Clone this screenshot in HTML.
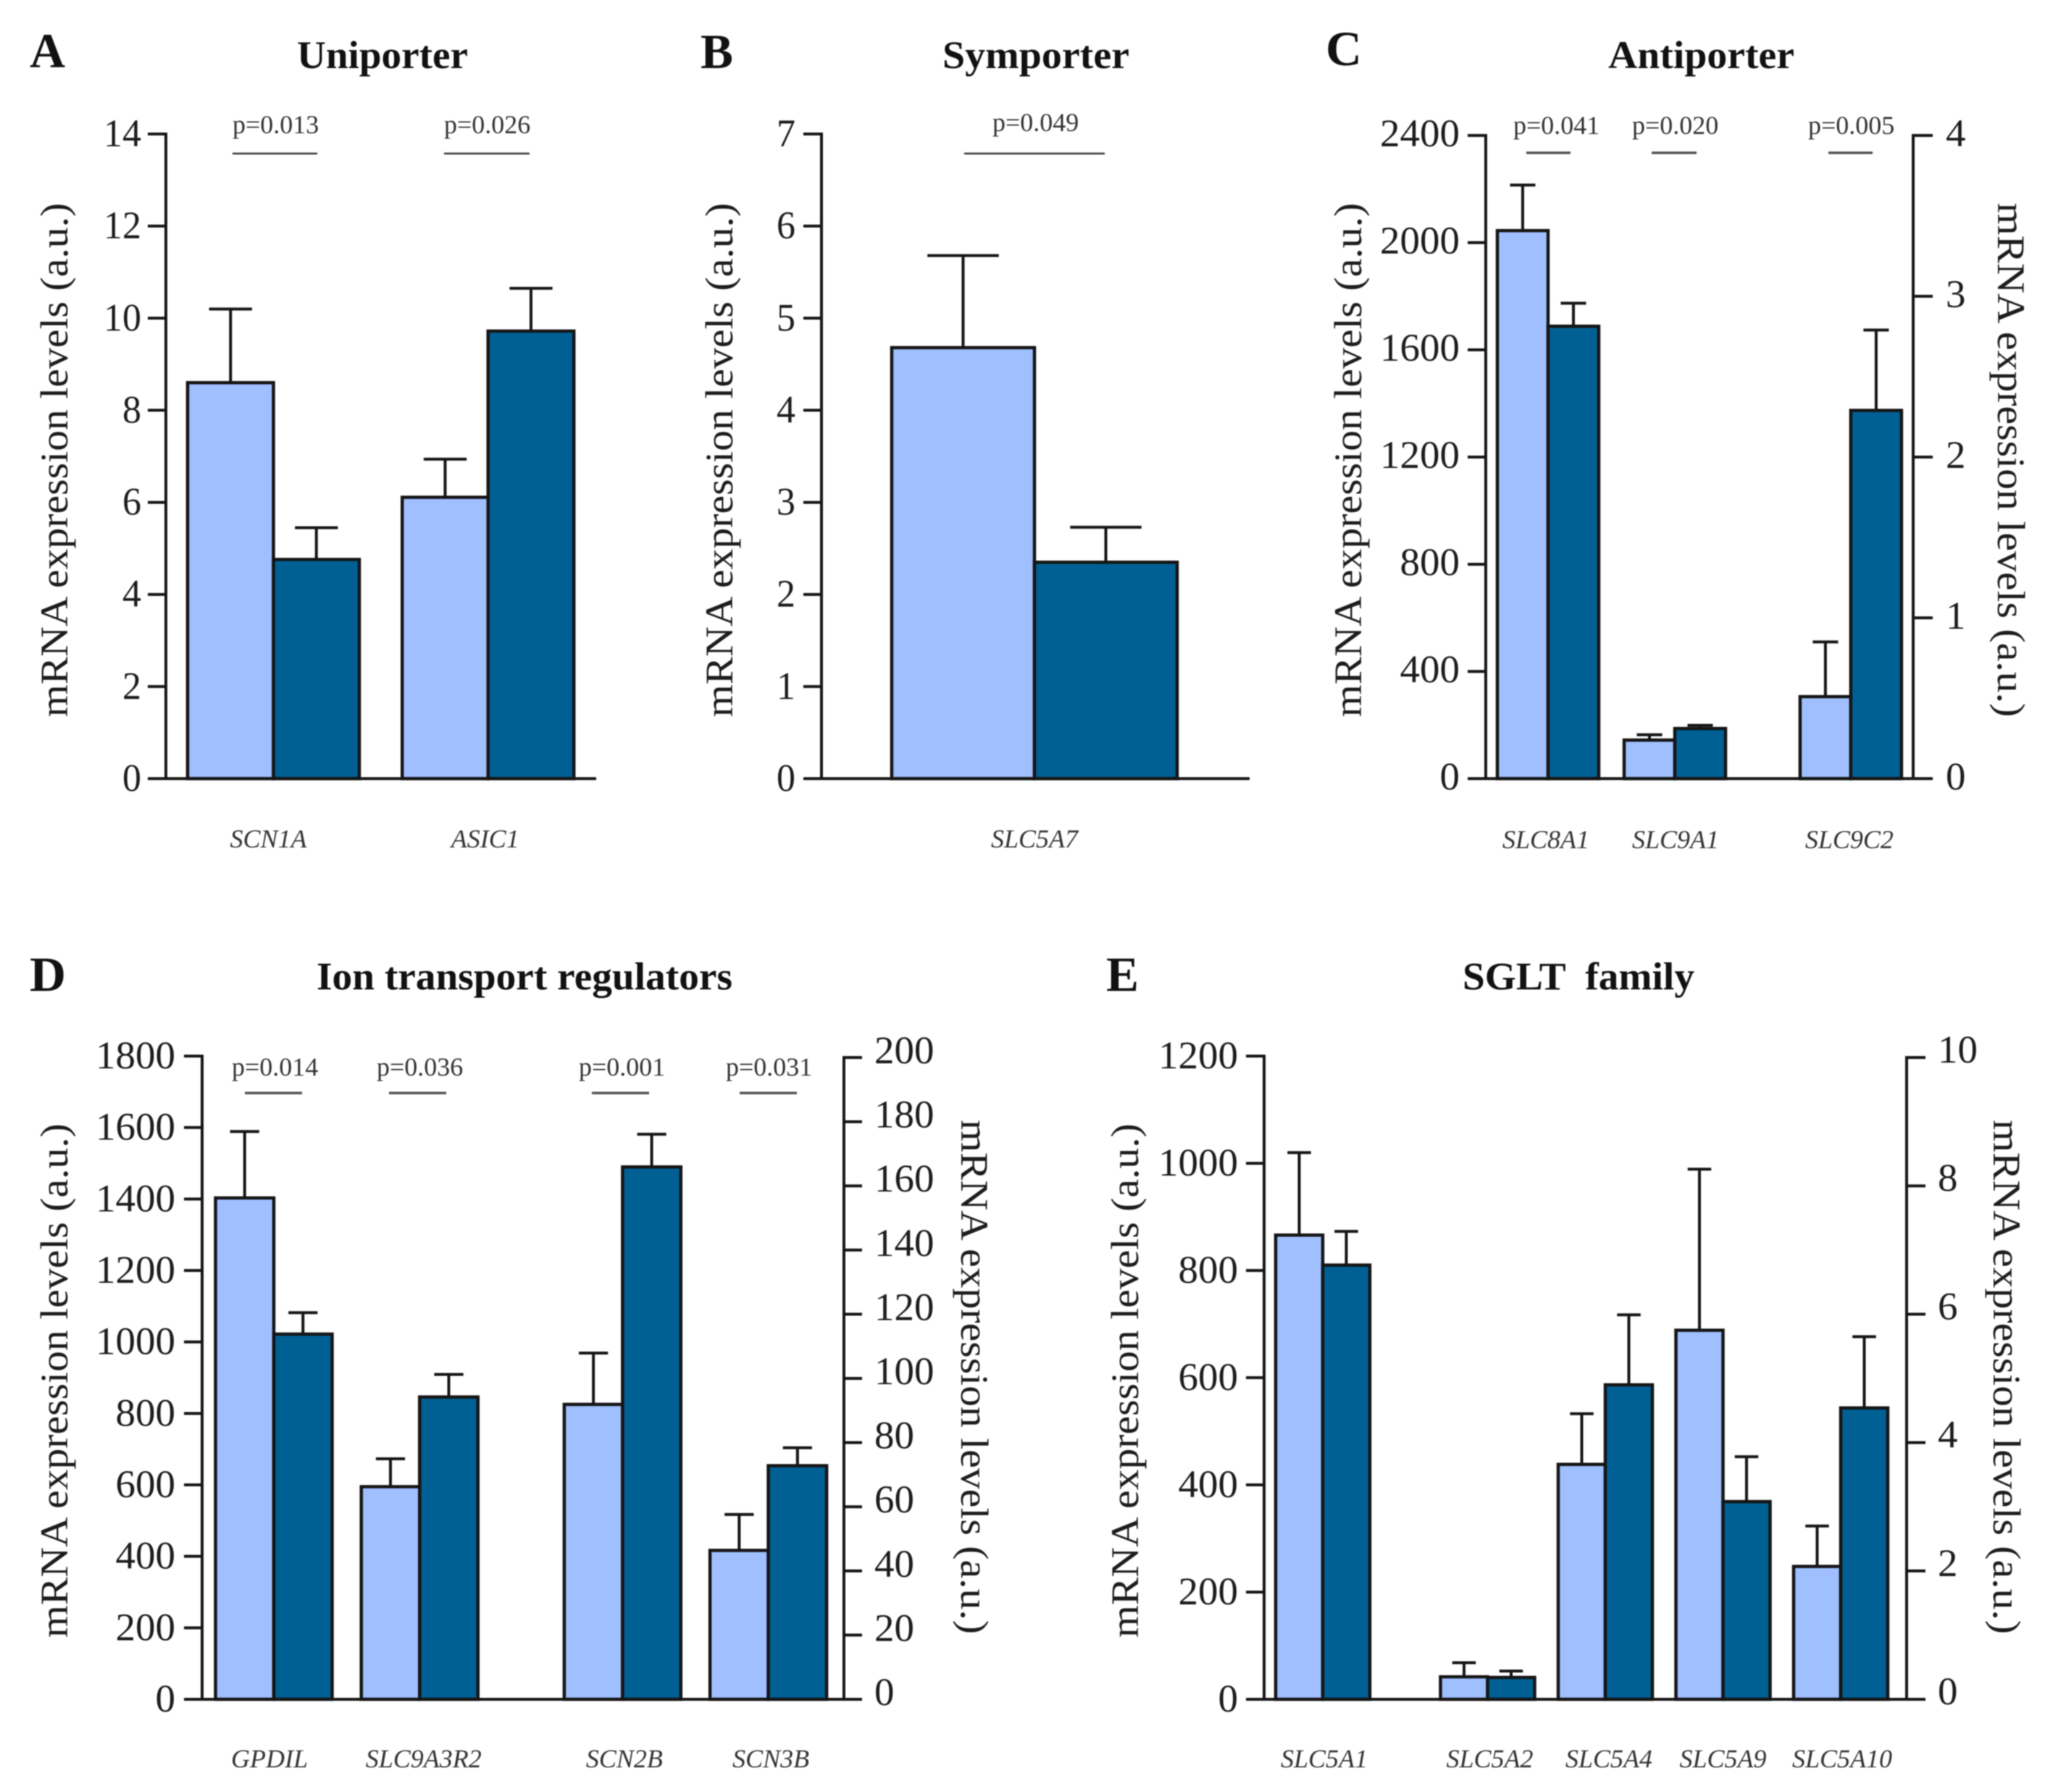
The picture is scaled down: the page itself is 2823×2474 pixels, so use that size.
<!DOCTYPE html>
<html lang="en">
<head>
<meta charset="utf-8">
<title>mRNA expression levels</title>
<style>
html,body{margin:0;padding:0;background:#fff;}
svg{display:block;filter:blur(0.9px);}
text{font-family:"Liberation Serif",serif;fill:#1c1c1c;}
.panel-letter{font-weight:bold;font-size:68px;fill:#111;}
.panel-title{font-weight:bold;font-size:54px;fill:#111;}
.y-title{font-size:54px;}
.p-text{font-size:36px;fill:#333;}
.p-line{stroke:#333;stroke-width:2.6;}
.p-line-wide{stroke:#555;stroke-width:3.4;}
.gene{font-size:36px;font-style:italic;fill:#333;}
</style>
</head>
<body>
<svg id="figure" xmlns="http://www.w3.org/2000/svg" width="2823" height="2474" viewBox="0 0 2823 2474">
  <rect x="0" y="0" width="2823" height="2474" fill="#ffffff"/>

  <text class="panel-letter" x="41" y="93" textLength="49" lengthAdjust="spacingAndGlyphs">A</text>
  <text class="panel-letter" x="967" y="94" textLength="45" lengthAdjust="spacingAndGlyphs">B</text>
  <text class="panel-letter" x="1830" y="90" textLength="50" lengthAdjust="spacingAndGlyphs">C</text>
  <text class="panel-letter" x="41" y="1368" textLength="50" lengthAdjust="spacingAndGlyphs">D</text>
  <text class="panel-letter" x="1527" y="1368" textLength="45" lengthAdjust="spacingAndGlyphs">E</text>

  <text class="panel-title" x="410" y="94" textLength="236" lengthAdjust="spacingAndGlyphs">Uniporter</text>
  <text class="panel-title" x="1301" y="94" textLength="258" lengthAdjust="spacingAndGlyphs">Symporter</text>
  <text class="panel-title" x="2220" y="94" textLength="257" lengthAdjust="spacingAndGlyphs">Antiporter</text>
  <text class="panel-title" x="437" y="1366" textLength="574" lengthAdjust="spacingAndGlyphs">Ion transport regulators</text>
  <text class="panel-title" x="2019" y="1366" textLength="320" lengthAdjust="spacingAndGlyphs" xml:space="preserve">SGLT  family</text>

  <text class="y-title" text-anchor="middle" transform="translate(93,635) rotate(-90)" textLength="710" lengthAdjust="spacingAndGlyphs">mRNA expression levels (a.u.)</text>
  <text class="y-title" text-anchor="middle" transform="translate(1011,635) rotate(-90)" textLength="710" lengthAdjust="spacingAndGlyphs">mRNA expression levels (a.u.)</text>
  <text class="y-title" text-anchor="middle" transform="translate(1879,635) rotate(-90)" textLength="710" lengthAdjust="spacingAndGlyphs">mRNA expression levels (a.u.)</text>
  <text class="y-title" text-anchor="middle" transform="translate(2758,635) rotate(90)" textLength="710" lengthAdjust="spacingAndGlyphs">mRNA expression levels (a.u.)</text>
  <text class="y-title" text-anchor="middle" transform="translate(93,1906) rotate(-90)" textLength="710" lengthAdjust="spacingAndGlyphs">mRNA expression levels (a.u.)</text>
  <text class="y-title" text-anchor="middle" transform="translate(1327,1901) rotate(90)" textLength="710" lengthAdjust="spacingAndGlyphs">mRNA expression levels (a.u.)</text>
  <text class="y-title" text-anchor="middle" transform="translate(1571,1906) rotate(-90)" textLength="710" lengthAdjust="spacingAndGlyphs">mRNA expression levels (a.u.)</text>
  <text class="y-title" text-anchor="middle" transform="translate(2752,1901) rotate(90)" textLength="710" lengthAdjust="spacingAndGlyphs">mRNA expression levels (a.u.)</text>

  <text class="p-text" x="321" y="184">p=0.013</text>
  <line class="p-line" x1="321" x2="438" y1="212" y2="212"/>
  <text class="p-text" x="613" y="184">p=0.026</text>
  <line class="p-line" x1="613" x2="731" y1="212" y2="212"/>
  <text class="p-text" x="1370" y="181">p=0.049</text>
  <line class="p-line" x1="1331" x2="1525" y1="212" y2="212"/>
  <text class="p-text" x="2089" y="185">p=0.041</text>
  <line class="p-line-wide" x1="2107" x2="2168" y1="211" y2="211"/>
  <text class="p-text" x="2253" y="185">p=0.020</text>
  <line class="p-line-wide" x1="2280" x2="2342" y1="211" y2="211"/>
  <text class="p-text" x="2496" y="185">p=0.005</text>
  <line class="p-line-wide" x1="2524" x2="2585" y1="211" y2="211"/>
  <text class="p-text" x="320" y="1485">p=0.014</text>
  <line class="p-line-wide" x1="338" x2="417" y1="1509" y2="1509"/>
  <text class="p-text" x="520" y="1485">p=0.036</text>
  <line class="p-line-wide" x1="537" x2="616" y1="1509" y2="1509"/>
  <text class="p-text" x="799" y="1485">p=0.001</text>
  <line class="p-line-wide" x1="817" x2="896" y1="1509" y2="1509"/>
  <text class="p-text" x="1002" y="1485">p=0.031</text>
  <line class="p-line-wide" x1="1021" x2="1100" y1="1509" y2="1509"/>
</svg>

<script>
// Panel A: Uniporter
const panelAGenes = ['SCN1A', 'ASIC1'];
const panelATicksLeft = [0, 2, 4, 6, 8, 10, 12, 14];
const panelAAxis = ['L', 'L'];
const panelAControl = [8.6, 6.11];
const panelAControlErr = [1.6, 0.83];
const panelACase = [4.76, 9.72];
const panelACaseErr = [0.69, 0.93];

// Panel B: Symporter
const panelBGenes = ['SLC5A7'];
const panelBTicksLeft = [0, 1, 2, 3, 4, 5, 6, 7];
const panelBAxis = ['L'];
const panelBControl = [4.68];
const panelBControlErr = [1.0];
const panelBCase = [2.35];
const panelBCaseErr = [0.38];

// Panel C: Antiporter
const panelCGenes = ['SLC8A1', 'SLC9A1', 'SLC9C2'];
const panelCTicksLeft = [0, 400, 800, 1200, 1600, 2000, 2400];
const panelCTicksRight = [0, 1, 2, 3, 4];
const panelCAxis = ['L', 'L', 'R'];
const panelCControl = [2045, 144, 0.51];
const panelCControlErr = [170, 20, 0.34];
const panelCCase = [1688, 187, 2.29];
const panelCCaseErr = [86, 12, 0.5];

// Panel D: Ion transport regulators
const panelDGenes = ['GPDIL', 'SLC9A3R2', 'SCN2B', 'SCN3B'];
const panelDTicksLeft = [0, 200, 400, 600, 800, 1000, 1200, 1400, 1600, 1800];
const panelDTicksRight = [0, 20, 40, 60, 80, 100, 120, 140, 160, 180, 200];
const panelDAxis = ['L', 'L', 'R', 'R'];
const panelDControl = [1403, 595, 91.9, 46.4];
const panelDControlErr = [186, 78, 16, 11.2];
const panelDCase = [1022, 846, 165.9, 72.8];
const panelDCaseErr = [60, 63, 10.2, 5.6];

// Panel E: SGLT family
const panelEGenes = ['SLC5A1', 'SLC5A2', 'SLC5A4', 'SLC5A9', 'SLC5A10'];
const panelETicksLeft = [0, 200, 400, 600, 800, 1000, 1200];
const panelETicksRight = [0, 2, 4, 6, 8, 10];
const panelEAxis = ['L', 'R', 'R', 'R', 'R'];
const panelEControl = [866, 0.35, 3.66, 5.75, 2.07];
const panelEControlErr = [154, 0.22, 0.79, 2.51, 0.63];
const panelECase = [810, 0.34, 4.9, 3.08, 4.54];
const panelECaseErr = [63, 0.10, 1.09, 0.7, 1.11];

const LIGHT = '#9fbfff';
const DARK = '#006094';
const STROKE = '#151515';
const NS = 'http://www.w3.org/2000/svg';
const svg = document.getElementById('figure');

function mk(parent, tag, attrs, txt) {
  const n = document.createElementNS(NS, tag);
  for (const k in attrs) n.setAttribute(k, attrs[k]);
  if (txt !== undefined) n.textContent = txt;
  parent.appendChild(n);
  return n;
}

function drawPanel(p) {
  const g = mk(svg, 'g', {});
  
  

  const maxL = p.ticksLeft[p.ticksLeft.length - 1];
  const yL = v => p.y0 - v / maxL * (p.y0 - p.topL);
  let yR = yL;
  if (p.ticksRight) {
    const maxR = p.ticksRight[p.ticksRight.length - 1];
    yR = v => p.y0 - v / maxR * (p.y0 - p.topR);
  }
  const xBand = slot => p.originX + slot * p.barW;
  const line = {stroke: STROKE, 'stroke-width': 4, fill: 'none'};

  // bars and error bars
  p.genes.forEach((gene, i) => {
    const scale = p.axis[i] === 'R' ? yR : yL;
    const left = xBand(p.slots[i]);
    const series = [
      {name: 'control', vals: p.control, errs: p.controlErr, fill: LIGHT, off: 0},
      {name: 'case', vals: p.caseVals, errs: p.caseErr, fill: DARK, off: 1}
    ];
    series.forEach(s => {
      const bx = left + s.off * p.barW;
      const cx = bx + p.barW / 2;
      const top = scale(s.vals[i]);
      const errTop = scale(s.vals[i] + s.errs[i]);
      const stem = mk(g, 'line', Object.assign({x1: cx, x2: cx, y1: top, y2: errTop}, line));
      
      
      const cap = mk(g, 'line', Object.assign({x1: cx - p.barW / 4, x2: cx + p.barW / 4, y1: errTop, y2: errTop}, line));
      
      
      const bar = mk(g, 'rect', {x: bx, y: top, width: p.barW, height: p.y0 - top, fill: s.fill, stroke: STROKE, 'stroke-width': 4.5});
      
      
    });
    const label = mk(g, 'text', {class: 'gene', x: left + p.barW + p.labelShift[i], y: p.labelY, 'text-anchor': 'middle'}, gene);
    
    
  });

  // left axis
  const axisL = mk(g, 'line', Object.assign({x1: p.axisLeft, x2: p.axisLeft, y1: p.topL - 2, y2: p.y0 + 2}, line));
  
  
  p.ticksLeft.forEach(t => {
    const y = yL(t);
    const tick = mk(g, 'line', Object.assign({x1: p.tickLeft, x2: p.axisLeft, y1: y, y2: y}, line));
    
    
    const s = String(t);
    const lab = mk(g, 'text', {x: p.labelLeft, y: y + p.labelDrop, 'text-anchor': 'end', 'font-size': 54, textLength: s.length * p.charW, lengthAdjust: 'spacingAndGlyphs'}, s);
    
    
  });

  // baseline
  const base = mk(g, 'line', Object.assign({x1: p.tickLeft, x2: p.baseEnd, y1: p.y0, y2: p.y0}, line));
  
  

  // right axis
  if (p.ticksRight) {
    const axisR = mk(g, 'line', Object.assign({x1: p.axisRight, x2: p.axisRight, y1: p.topR - 2, y2: p.y0 + 2}, line));
    
    
    p.ticksRight.forEach(t => {
      const y = yR(t);
      const tick = mk(g, 'line', Object.assign({x1: p.axisRight, x2: p.tickRight, y1: y, y2: y}, line));
      
      
      const s = String(t);
      const lab = mk(g, 'text', {x: p.labelRight, y: y + p.labelDrop - p.rightLift, 'font-size': 54, textLength: s.length * p.charW, lengthAdjust: 'spacingAndGlyphs'}, s);
      
      
    });
  }
}

drawPanel({id: 'a', genes: panelAGenes, ticksLeft: panelATicksLeft, axis: panelAAxis,
  control: panelAControl, controlErr: panelAControlErr, caseVals: panelACase, caseErr: panelACaseErr,
  y0: 1075, topL: 185, originX: 259, barW: 118.5, slots: [0, 2.5], labelShift: [-7, -4], labelY: 1170,
  axisLeft: 229, tickLeft: 204, labelLeft: 195, baseEnd: 823, charW: 26, labelDrop: 17});

drawPanel({id: 'b', genes: panelBGenes, ticksLeft: panelBTicksLeft, axis: panelBAxis,
  control: panelBControl, controlErr: panelBControlErr, caseVals: panelBCase, caseErr: panelBCaseErr,
  y0: 1075, topL: 185, originX: 1231, barW: 197, slots: [0], labelShift: [0], labelY: 1170,
  axisLeft: 1134, tickLeft: 1109, labelLeft: 1098, baseEnd: 1725, charW: 26, labelDrop: 17});

drawPanel({id: 'c', genes: panelCGenes, ticksLeft: panelCTicksLeft, ticksRight: panelCTicksRight, axis: panelCAxis,
  control: panelCControl, controlErr: panelCControlErr, caseVals: panelCCase, caseErr: panelCCaseErr,
  y0: 1075, topL: 187, topR: 187, originX: 2067, barW: 70, slots: [0, 2.5, 5.97], labelShift: [-3, 1, -2], labelY: 1171,
  axisLeft: 2051, tickLeft: 2026, labelLeft: 2015, axisRight: 2641, tickRight: 2668, labelRight: 2686, baseEnd: 2668, charW: 27.5, labelDrop: 15, rightLift: 0});

drawPanel({id: 'd', genes: panelDGenes, ticksLeft: panelDTicksLeft, ticksRight: panelDTicksRight, axis: panelDAxis,
  control: panelDControl, controlErr: panelDControlErr, caseVals: panelDCase, caseErr: panelDCaseErr,
  y0: 2346, topL: 1458, topR: 1460, originX: 297.5, barW: 80.5, slots: [0, 2.5, 5.98, 8.48], labelShift: [-6, 5.5, 2.5, 3.5], labelY: 2440,
  axisLeft: 279, tickLeft: 254, labelLeft: 242, axisRight: 1165, tickRight: 1190, labelRight: 1207, baseEnd: 1190, charW: 27.5, labelDrop: 17, rightLift: 9});

drawPanel({id: 'e', genes: panelEGenes, ticksLeft: panelETicksLeft, ticksRight: panelETicksRight, axis: panelEAxis,
  control: panelEControl, controlErr: panelEControlErr, caseVals: panelECase, caseErr: panelECaseErr,
  y0: 2346, topL: 1458, topR: 1460, originX: 1761, barW: 65, slots: [0, 3.5, 6, 8.5, 11], labelShift: [2, 3, 5, 0, 2], labelY: 2440,
  axisLeft: 1745, tickLeft: 1720, labelLeft: 1709, axisRight: 2632, tickRight: 2658, labelRight: 2675, baseEnd: 2658, charW: 27.5, labelDrop: 17, rightLift: 10});
</script>
</body>
</html>
